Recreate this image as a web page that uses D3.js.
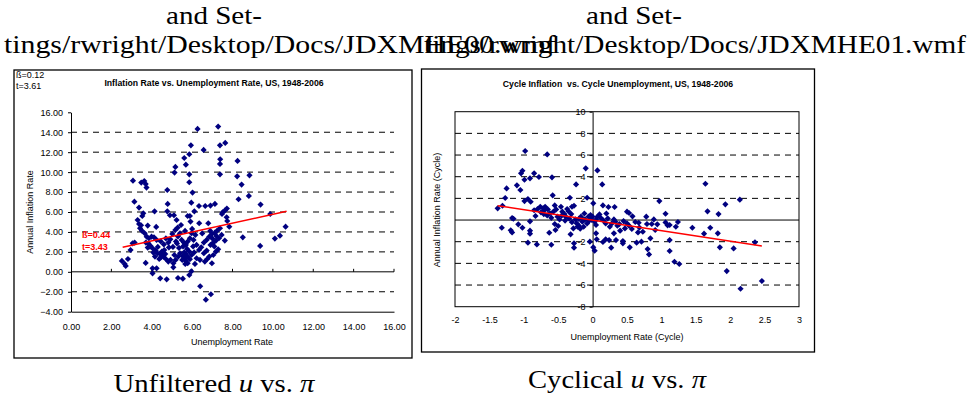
<!DOCTYPE html>
<html>
<head>
<meta charset="utf-8">
<script src="https://cdn.jsdelivr.net/npm/d3@7"></script>
<style>
  body { margin: 0; background: #fff; }
  text { font-family: "Liberation Sans", Arial, sans-serif; }
  .tex text { font-family: "Liberation Serif", "Times New Roman", serif; }
</style>
</head>
<body>
<div id="fig"></div>
<script>
// unfiltered unemployment rate vs annual inflation rate
const unfilteredU = [
  6.27, 7.29, 6.57, 5.94, 7.38, 7.64, 5.61, 5.86, 7.39, 7.38, 8.25, 5.17, 5.69, 5.13, 5.86, 7.38, 8.23, 8.84,
  3.07, 3.63, 3.70, 3.48, 3.74, 5.86, 4.77, 8.45, 6.02, 8.81, 8.30, 3.14, 5.96, 4.79, 6.34, 6.65, 6.91, 7.13,
  3.37, 9.39, 7.72, 7.62, 7.51, 7.48, 4.14, 4.77, 3.58, 3.53, 6.11, 4.90, 5.10, 5.78, 5.89, 9.87, 7.71, 7.74,
  7.84, 10.63, 5.23, 5.92, 6.35, 6.80, 5.45, 3.37, 3.47, 3.80, 4.22, 8.51, 10.10, 10.35, 9.37, 7.62, 7.29,
  3.05, 3.15, 2.95, 2.52, 2.66, 2.71, 2.82, 4.04, 4.24, 4.04, 4.42, 4.74, 5.30, 5.54, 5.86, 5.96, 6.40, 6.68,
  6.93, 6.98, 3.70,
  3.65, 3.75, 3.86, 3.99, 4.11, 4.24, 3.83, 3.91, 4.04, 4.19, 4.29, 4.41, 4.57, 4.67, 4.50, 4.08, 4.16, 4.37,
  4.62, 4.82, 4.92, 5.02, 5.17, 5.28, 5.40, 5.48, 5.59, 5.69, 5.78, 5.89, 5.97, 6.16, 6.07, 6.22, 6.34, 6.45,
  6.58, 6.72, 6.85, 6.98, 7.13, 7.24, 7.38, 7.46, 7.33, 7.18, 7.05, 6.91, 6.72, 6.58, 6.85, 6.75, 7.05, 7.18,
  5.40, 5.53, 5.61, 5.69, 5.78, 5.66, 5.51, 5.76, 5.89, 5.97, 5.86, 5.61, 5.31, 5.18, 5.07, 4.93, 4.82, 4.70,
  5.12, 6.22, 6.39, 6.63, 6.14, 5.07, 3.30, 3.42, 3.51, 3.71, 3.80, 3.94,
  5.05, 5.25, 5.35, 5.20, 5.55, 4.85, 5.75, 6.05, 6.10, 4.45, 4.60, 4.70, 5.30, 5.65, 6.00, 6.50, 6.90, 7.00,
  7.20, 7.10, 4.30, 4.45, 4.55, 5.70
];
const unfilteredPi = [
  14.33, 14.57, 12.23, 12.69, 12.69, 12.93, 11.42, 11.79, 11.29, 10.82, 11.12, 10.52, 10.75, 9.95, 9.78, 9.78, 9.58, 9.68,
  9.14, 9.11, 8.81, 8.95, 8.45, 8.98, 8.21, 8.75, 7.95, 7.61, 7.28, 7.04, 6.94, 6.81, 6.60, 6.60, 6.64, 6.81,
  6.44, 6.74, 6.34, 6.14, 5.97, 5.80, 6.07, 6.07, 5.87, 5.60, 6.07, 5.67, 5.67, 5.60, 5.60, 5.80, 5.47, 5.10,
  4.53, 4.53, 5.20, 5.04, 4.87, 4.87, 4.70, 4.80, 4.67, 4.64, 4.50, 3.46, 3.33, 3.63, 2.60, 3.13, 2.26,
  2.86, 2.93, 2.19, 1.09, 0.79, 0.59, 1.29, 0.35, 0.35, -0.15, -0.65, -0.75, -0.62, -0.69, -0.32, 0.05, -1.45, -2.79,
  -2.25, 0.86, 0.89,
  3.87, 3.53, 3.37, 3.53, 3.47, 3.20, 2.86, 2.53, 2.36, 2.13, 1.86, 1.79, 1.53, 1.79, 2.03, 1.93, 1.53, 1.29,
  2.19, 2.93, 3.26, 3.80, 4.20, 4.43, 3.87, 3.20, 2.93, 2.70, 3.03, 3.37, 3.87, 3.70, 3.20, 2.70, 2.19, 2.46,
  2.93, 3.20, 3.53, 3.80, 3.93, 4.13, 4.37, 3.70, 3.37, 3.13, 2.93, 2.70, 2.13, 1.86, 1.53, 1.29, 1.69, 2.03,
  1.86, 1.59, 1.36, 1.09, 0.86, 0.79, 1.19, 1.53, 1.26, 1.69, 2.03, 1.96, 1.53, 1.19, 0.86, 1.19, 1.03, 1.29,
  1.69, 1.36, 1.19, 1.03, 0.79, 0.45, 5.20, 4.37, 4.13, 2.93, 2.43, 2.60,
  2.50, 2.85, 2.40, 3.05, 2.55, 2.45, 2.30, 2.55, 1.95, 3.05, 2.75, 3.35, 3.55, 4.10, 4.30, 3.85, 4.10, 3.35,
  3.60, 2.55, 2.50, 1.45, 1.70, 1.75
];
const unfilteredFitU = [2.56, 10.68];
const unfilteredFitPi = [2.46, 6.07];
const unfilteredXTicks = [0, 2, 4, 6, 8, 10, 12, 14, 16];
const unfilteredYTicks = [-4, -2, 0, 2, 4, 6, 8, 10, 12, 14, 16];

// cyclical components
const cyclicalU = [
  -0.98, -0.66, -0.10, 0.07, -1.02, -1.04, -0.85, -0.78, -0.91, -0.99, -0.59, -1.10, -1.05, -1.25, -0.24, 0.14,
  -0.58, -1.27, -0.94, -0.90, -0.99, -0.08, -0.33, 0.97, 2.14, 1.93, 1.64, 1.67, 1.83, 1.06, 0.01, 0.15, 0.23,
  0.32, 0.50, 0.53, 0.58, -1.38, -1.31, -1.17, -1.15, -0.83, -0.80, -0.76, -0.72, -0.69, -0.65, -0.75, -0.71,
  -0.66, -0.62, -0.57, -0.53, -0.51, -0.46, -0.44, -0.41, -0.39, -0.37, -0.34, -0.31, -0.30, -0.27, -0.25, -0.23,
  -0.20, -0.17, -0.15, -0.13, -0.11, -0.08, -0.06, -0.03, -0.02, 0.00, 0.03, 0.05, 0.07, 0.10, 0.12, 0.16, 0.19,
  0.22, 0.25, 0.28, 0.31, 0.33, 0.36, 0.39, -1.32, -1.19, -1.17, -1.08, -1.02, -0.91, -0.91, -0.91, -0.94, -0.81,
  -0.63, -0.60, -0.55, -0.54, -0.50, -0.32, -0.27, -0.27, -0.28, -0.22, -0.04, 0.01, 0.03, 0.05, 0.06, 0.15, 0.19,
  0.24, 0.27, 0.31, 0.34, 0.40, 0.44, 0.44, 0.47, 0.54, 0.57, 0.62, 0.64, 0.66, 0.67, 0.71, 0.73, 0.78, 0.79, 0.80,
  0.82, 0.84, 0.86, 0.89, 0.91, 1.06, 1.09, 1.12, 1.12, 1.12, 1.19, 1.26, 1.21, 1.24, 1.45, 1.62, 1.71, 1.82, 1.85,
  1.95, 2.05, 2.15, 2.36, 2.46, 0.50, 0.94, 0.53,
  -0.45, -0.48, -0.35, -0.20, -0.12, -0.60, -0.70, -0.85, -0.30, 0.05, -0.18, -0.40, 0.20, 0.45, 0.68, -0.05, -0.55
];
const cyclicalPi = [
  6.37, 6.06, 4.77, 4.58, 4.55, 4.31, 4.31, 3.97, 3.85, 3.72, 3.94, 3.20, 2.77, 2.92, 3.29, 3.29,
  2.28, 2.03, 1.94, 1.69, 1.75, 2.06, 2.06, 1.75, 1.88, 1.45, 3.35, 0.80, 0.55, 0.58, 1.54, 1.35, 1.20,
  1.20, 0.77, 0.65, 0.34, 1.08, 1.32, 0.18, 0.12, 0.37, 1.02, 1.23, 1.08, 1.23, 0.98, 0.71, 0.55,
  0.43, 0.62, 0.77, 0.98, 0.31, 1.23, 0.77, 0.55, 0.31, 1.02, 0.12, 0.55, 1.23, 1.32, 0.06, -0.31,
  -0.52, 0.31, -0.15, -0.62, 0.06, -0.31, 0.31, 0.46, 0.00, 0.31, -0.15, -0.46, 0.31, 0.52, 0.18, -0.06, -0.31,
  0.15, -0.62, -0.31, 0.06, -0.15, -0.52, -0.37, -0.71, -0.95, -1.14, -0.40, -0.71, -0.12, -0.98, -1.26, -2.09, -2.25,
  -1.17, -2.28, -0.37, -0.92, -0.55, -1.32, -2.15, -2.55, -0.77, -0.62, -2.00, -2.52, -2.83, -1.23, -1.78, -2.03, -1.78,
  -1.85, -2.55, -1.23, -1.85, -0.98, -1.94, -2.15, -0.77, -2.52, -0.83, -0.18, -2.09, -1.14, -0.25, -2.00, -1.08, 0.31, -0.37, -2.68,
  -3.17, -1.69, -0.37, 0.06, -0.92, -0.22, -0.49, -0.46, -1.85, -2.86, -3.85, -4.06, -0.62, -0.18, -0.71, -1.26, -0.71, -1.23, -2.52,
  -4.71, -2.62, -6.34, -2.06, -5.63, -0.31, -0.40, -0.52,
  0.40, 0.05, 0.80, 0.10, 0.60, 0.20, 0.90, 0.90, -0.20, 0.05, -0.80, -0.05, 0.60, -0.10, -0.70, -0.05, 1.35
];
const cyclicalFitU = [-1.38, 2.46];
const cyclicalFitPi = [1.32, -2.40];
const cyclicalXTicks = [-2, -1.5, -1, -0.5, 0, 0.5, 1, 1.5, 2, 2.5, 3];
const cyclicalYTicks = [-8, -6, -4, -2, 0, 2, 4, 6, 8, 10];

const svg = d3.select('#fig').append('svg')
    .attr('width', 969)
    .attr('height', 400)
    .style('display', 'block')
    .style('background', '#fff');

const navy = '#000080';

function styleAxis(g) {
    g.selectAll('text')
        .attr('font-size', 9)
        .attr('font-family', '"Liberation Sans", Arial, sans-serif')
        .attr('fill', '#000');
    g.selectAll('line').attr('stroke', '#000');
    g.selectAll('path').attr('stroke', '#000');
}

function drawPoints(g, us, pis, x, y) {
    const sym = d3.symbol().type(d3.symbolSquare).size(19);
    g.selectAll('path.pt')
        .data(us.map((u, i) => [u, pis[i]]))
        .enter()
        .append('path')
        .attr('class', 'pt')
        .attr('d', sym)
        .attr('transform', d => `translate(${x(d[0])},${y(d[1])}) rotate(45)`)
        .attr('fill', navy);
}

function drawFit(g, us, pis, x, y) {
    g.append('path')
        .datum(us.map((u, i) => [u, pis[i]]))
        .attr('d', d3.line().x(d => x(d[0])).y(d => y(d[1])))
        .attr('stroke', '#ff0000')
        .attr('stroke-width', 1.5)
        .attr('fill', 'none');
}

function dashedGrid(g, ticks, skip, x, y) {
    g.selectAll('line.grid')
        .data(ticks.filter(t => !skip.includes(t)))
        .enter()
        .append('line')
        .attr('class', 'grid')
        .attr('x1', x.range()[0])
        .attr('x2', x.range()[1])
        .attr('y1', d => y(d))
        .attr('y2', d => y(d))
        .attr('stroke', '#000')
        .attr('stroke-width', 1)
        .attr('stroke-dasharray', '6,5');
}

// ---- header (overfull LaTeX lines) ----
const hdr = svg.append('g').attr('class', 'tex');
hdr.append('text').attr('x', 214).attr('y', 24).attr('text-anchor', 'middle')
    .attr('font-size', 25).attr('textLength', 96).attr('lengthAdjust', 'spacingAndGlyphs').text('and Set-');
hdr.append('text').attr('x', 634).attr('y', 24).attr('text-anchor', 'middle')
    .attr('font-size', 25).attr('textLength', 96).attr('lengthAdjust', 'spacingAndGlyphs').text('and Set-');
hdr.append('text').attr('x', 4).attr('y', 53)
    .attr('font-size', 25).attr('textLength', 552).attr('lengthAdjust', 'spacingAndGlyphs')
    .text('tings/rwright/Desktop/Docs/JDXMHE00.wmf');
hdr.append('text').attr('x', 424).attr('y', 53)
    .attr('font-size', 25).attr('textLength', 542).attr('lengthAdjust', 'spacingAndGlyphs')
    .text('tings/rwright/Desktop/Docs/JDXMHE01.wmf');

// ---- left chart: unfiltered ----
const left = svg.append('g');
left.append('rect').attr('x', 14).attr('y', 70).attr('width', 398).attr('height', 288)
    .attr('fill', '#fff').attr('stroke', '#000').attr('stroke-width', 1.3);

const lx = d3.scaleLinear().domain([0, 16]).range([71, 394]);
const ly = d3.scaleLinear().domain([-4, 16]).range([311.7, 112.3]);

dashedGrid(left, unfilteredYTicks, [-4, 0, 16], lx, ly);

left.append('line').attr('x1', lx(0)).attr('x2', lx(16)).attr('y1', ly(0)).attr('y2', ly(0))
    .attr('stroke', '#000').attr('stroke-width', 1);
left.selectAll('line.ztick')
    .data(unfilteredXTicks.slice(1))
    .enter().append('line').attr('class', 'ztick')
    .attr('x1', d => lx(d)).attr('x2', d => lx(d))
    .attr('y1', ly(0) - 3).attr('y2', ly(0))
    .attr('stroke', '#000');

left.append('g')
    .attr('transform', `translate(0,${ly(-4)})`)
    .call(d3.axisBottom(lx).tickValues(unfilteredXTicks).tickFormat(d3.format('.2f'))
        .tickSize(0).tickPadding(12))
    .call(styleAxis);
left.append('g')
    .attr('transform', `translate(${lx(0)},0)`)
    .call(d3.axisLeft(ly).tickValues(unfilteredYTicks).tickFormat(d3.format('.2f'))
        .tickSize(3).tickSizeOuter(0).tickPadding(5))
    .call(styleAxis);

drawPoints(left, unfilteredU, unfilteredPi, lx, ly);
drawFit(left, unfilteredFitU, unfilteredFitPi, lx, ly);

left.append('text').attr('x', 214).attr('y', 86).attr('text-anchor', 'middle')
    .attr('font-size', 8.7).attr('font-weight', 'bold')
    .text('Inflation Rate vs. Unemployment Rate, US, 1948-2006');
left.append('text').attr('x', 16).attr('y', 78).attr('font-size', 9).text('ß=0.12');
left.append('text').attr('x', 16).attr('y', 89).attr('font-size', 9).text('t=3.61');
left.append('text').attr('x', 82).attr('y', 238).attr('font-size', 9).attr('font-weight', 'bold')
    .attr('fill', '#ff0000').text('ß=0.44');
left.append('text').attr('x', 82).attr('y', 250).attr('font-size', 9).attr('font-weight', 'bold')
    .attr('fill', '#ff0000').text('t=3.43');
left.append('text').attr('transform', 'translate(33,212) rotate(-90)').attr('text-anchor', 'middle')
    .attr('font-size', 9).text('Annual Inflation Rate');
left.append('text').attr('x', 232).attr('y', 345).attr('text-anchor', 'middle')
    .attr('font-size', 9).text('Unemployment Rate');

// ---- right chart: cyclical ----
const right = svg.append('g');
right.append('rect').attr('x', 421.5).attr('y', 69).attr('width', 393).attr('height', 283)
    .attr('fill', '#fff').attr('stroke', '#000').attr('stroke-width', 1.3);

const rx = d3.scaleLinear().domain([-2, 3]).range([455, 799]);
const ry = d3.scaleLinear().domain([-8, 10]).range([306.7, 111.7]);

dashedGrid(right, cyclicalYTicks, [-8, 0, 10], rx, ry);

right.append('rect')
    .attr('x', rx(-2)).attr('y', ry(10))
    .attr('width', rx(3) - rx(-2)).attr('height', ry(-8) - ry(10))
    .attr('fill', 'none').attr('stroke', '#000').attr('stroke-width', 1);
right.append('line').attr('x1', rx(-2)).attr('x2', rx(3)).attr('y1', ry(0)).attr('y2', ry(0))
    .attr('stroke', '#000').attr('stroke-width', 1);

right.append('g')
    .attr('transform', `translate(0,${ry(-8)})`)
    .call(d3.axisBottom(rx).tickValues(cyclicalXTicks).tickFormat(d => String(d))
        .tickSize(0).tickPadding(10))
    .call(styleAxis)
    .call(g => g.select('.domain').remove());
right.append('g')
    .attr('transform', `translate(${rx(0)},0)`)
    .call(d3.axisLeft(ry).tickValues(cyclicalYTicks).tickFormat(d => String(d))
        .tickSize(3).tickSizeOuter(0).tickPadding(4))
    .call(styleAxis);

drawPoints(right, cyclicalU, cyclicalPi, rx, ry);
drawFit(right, cyclicalFitU, cyclicalFitPi, rx, ry);

right.append('text').attr('x', 618).attr('y', 86.5).attr('text-anchor', 'middle')
    .attr('font-size', 8.7).attr('font-weight', 'bold').style('white-space', 'pre')
    .text('Cycle Inflation  vs. Cycle Unemployment, US, 1948-2006');
right.append('text').attr('transform', 'translate(440,210) rotate(-90)').attr('text-anchor', 'middle')
    .attr('font-size', 9).text('Annual Inflation Rate (Cycle)');
right.append('text').attr('x', 627).attr('y', 340).attr('text-anchor', 'middle')
    .attr('font-size', 9).text('Unemployment Rate (Cycle)');

// ---- captions ----
const cap = svg.append('g').attr('class', 'tex').attr('font-size', 26);
const c1 = cap.append('text').attr('x', 214).attr('y', 392).attr('text-anchor', 'middle')
    .attr('textLength', 201).attr('lengthAdjust', 'spacingAndGlyphs').style('white-space', 'pre');
c1.append('tspan').text('Unfiltered ');
c1.append('tspan').attr('font-style', 'italic').text('u');
c1.append('tspan').text(' vs. ');
c1.append('tspan').attr('font-style', 'italic').text('π');
const c2 = cap.append('text').attr('x', 617).attr('y', 388).attr('text-anchor', 'middle')
    .attr('textLength', 178).attr('lengthAdjust', 'spacingAndGlyphs').style('white-space', 'pre');
c2.append('tspan').text('Cyclical ');
c2.append('tspan').attr('font-style', 'italic').text('u');
c2.append('tspan').text(' vs. ');
c2.append('tspan').attr('font-style', 'italic').text('π');
</script>
</body>
</html>
